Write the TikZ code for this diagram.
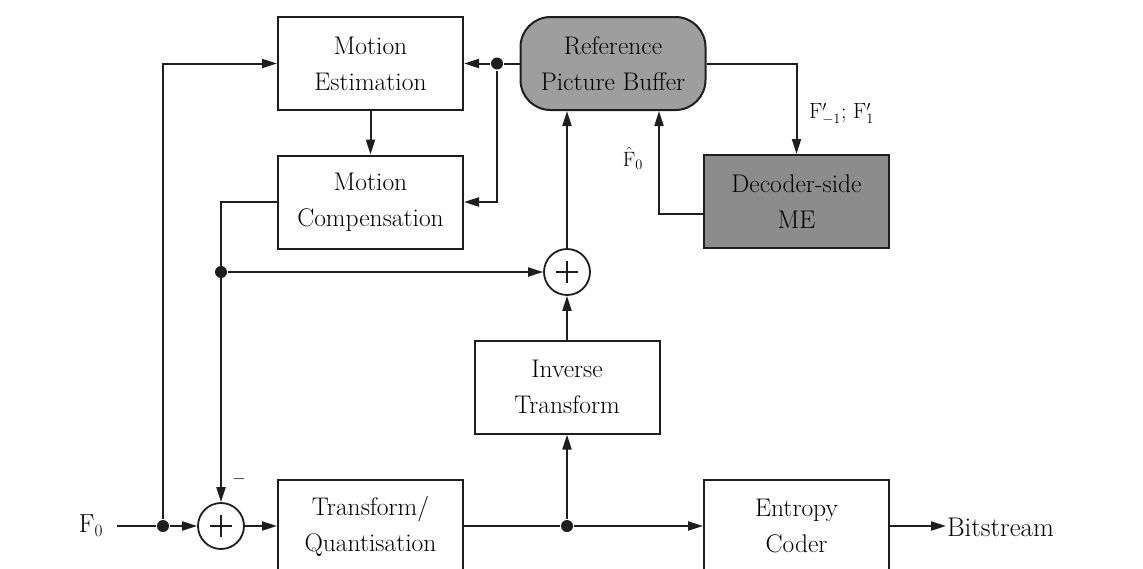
\documentclass[tikz,border=0pt]{standalone}
\usetikzlibrary{arrows.meta,calc}
\definecolor{bufgray}{RGB}{158,158,158}
\definecolor{megray}{RGB}{140,140,140}
\definecolor{ink}{RGB}{30,30,30}
\begin{document}
\begin{tikzpicture}[x=1pt,y=-1pt, line width=2pt, draw=ink,
  box/.style={draw=ink, rectangle, minimum width=185pt, minimum height=93pt, align=center,
    font=\fontsize{25.5}{36}\selectfont, inner sep=0pt, text=black},
  arr/.style={-{Triangle[length=15pt,width=9pt]}},
  dot/.style={circle, fill=ink, draw=none, inner sep=0pt, minimum size=12pt},
  sum/.style={circle, draw=ink, minimum size=46pt, inner sep=0pt, line width=1.8pt},
  lbl/.style={text=black, inner sep=0pt}]
\useasboundingbox (0,0) rectangle (1143,568);
\clip (0,0) rectangle (1143,568);
\fill[white] (0,0) rectangle (1143,568);

% blocks
\node[box] (me) at (370.5,63.5) {Motion\\Estimation};
\node[box] (mc) at (370.5,202) {Motion\\Compensation};
\node[box, fill=bufgray, rounded corners=30pt] (rpb) at (613,63.5) {Reference\\Picture Buffer};
\node[box, fill=megray] (dme) at (796.5,201.5) {Decoder-side\\ME};
\node[box] (it) at (567,387) {Inverse\\Transform};
\node[box] (tq) at (370.5,526) {Transform/\\Quantisation};
\node[box] (ec) at (796.5,526) {Entropy\\Coder};

% summing junctions
\node[sum] (s1) at (221,526) {};
\node[sum] (s2) at (567,272) {};
\foreach \s in {s1,s2}{
  \draw[line width=1.5pt] ($(\s)+(-11,0)$) -- ($(\s)+(11,0)$)
                          ($(\s)+(0,-11)$) -- ($(\s)+(0,11)$);
}

% junction dots
\node[dot] (d1) at (163,526) {};
\node[dot] (d2) at (497,63.5) {};
\node[dot] (d3) at (221,272) {};
\node[dot] (d4) at (567,526) {};

% labels
\node[lbl, anchor=east, inner xsep=13pt, font=\fontsize{26}{30}\selectfont] (f0) at (117,526) {F$_{\mathrm{0}}$};
\node[lbl, anchor=west, font=\fontsize{27}{30}\selectfont] (bs) at (946,527) {Bitstream};
\node[lbl, anchor=west, font=\fontsize{22}{25}\selectfont] (fl) at (808,114) {F$'_{-1}$; F$'_{1}$};
\node[lbl, font=\fontsize{22}{24}\selectfont] (fh) at (633,158) {$\hat{\mathrm{F}}_{0}$};
\node[lbl, font=\fontsize{16}{20}\selectfont] (minus) at (239,479) {$-$};

% connectors
\draw (f0.east) -- (d1);
\draw[arr] (d1) -- (s1);
\draw[arr] (d1) |- (me.west);
\draw[arr] (s1) -- (tq.west);
\draw[arr] (mc.west) -| (s1.north);
\draw[arr] (d3) -- (s2.west);
\draw[arr] (me.south) -- (mc.north);
\draw (rpb.west) -- (d2);
\draw[arr] (d2) -- (me.east);
\draw[arr] (d2) |- (mc.east);
\draw[arr] (s2.north) -- (s2.north |- rpb.south);
\draw[arr] (it.north) -- (s2.south);
\draw (tq.east) -- (d4);
\draw[arr] (d4) -- (ec.west);
\draw[arr] (d4) -- (it.south);
\draw[arr] (rpb.east) -| (dme.north);
\draw[arr] ([yshift=-12.5pt]dme.west) -| ([xshift=46pt]rpb.south);
\draw[arr] (ec.east) -- (ec.east -| bs.west);
\end{tikzpicture}
\end{document}
